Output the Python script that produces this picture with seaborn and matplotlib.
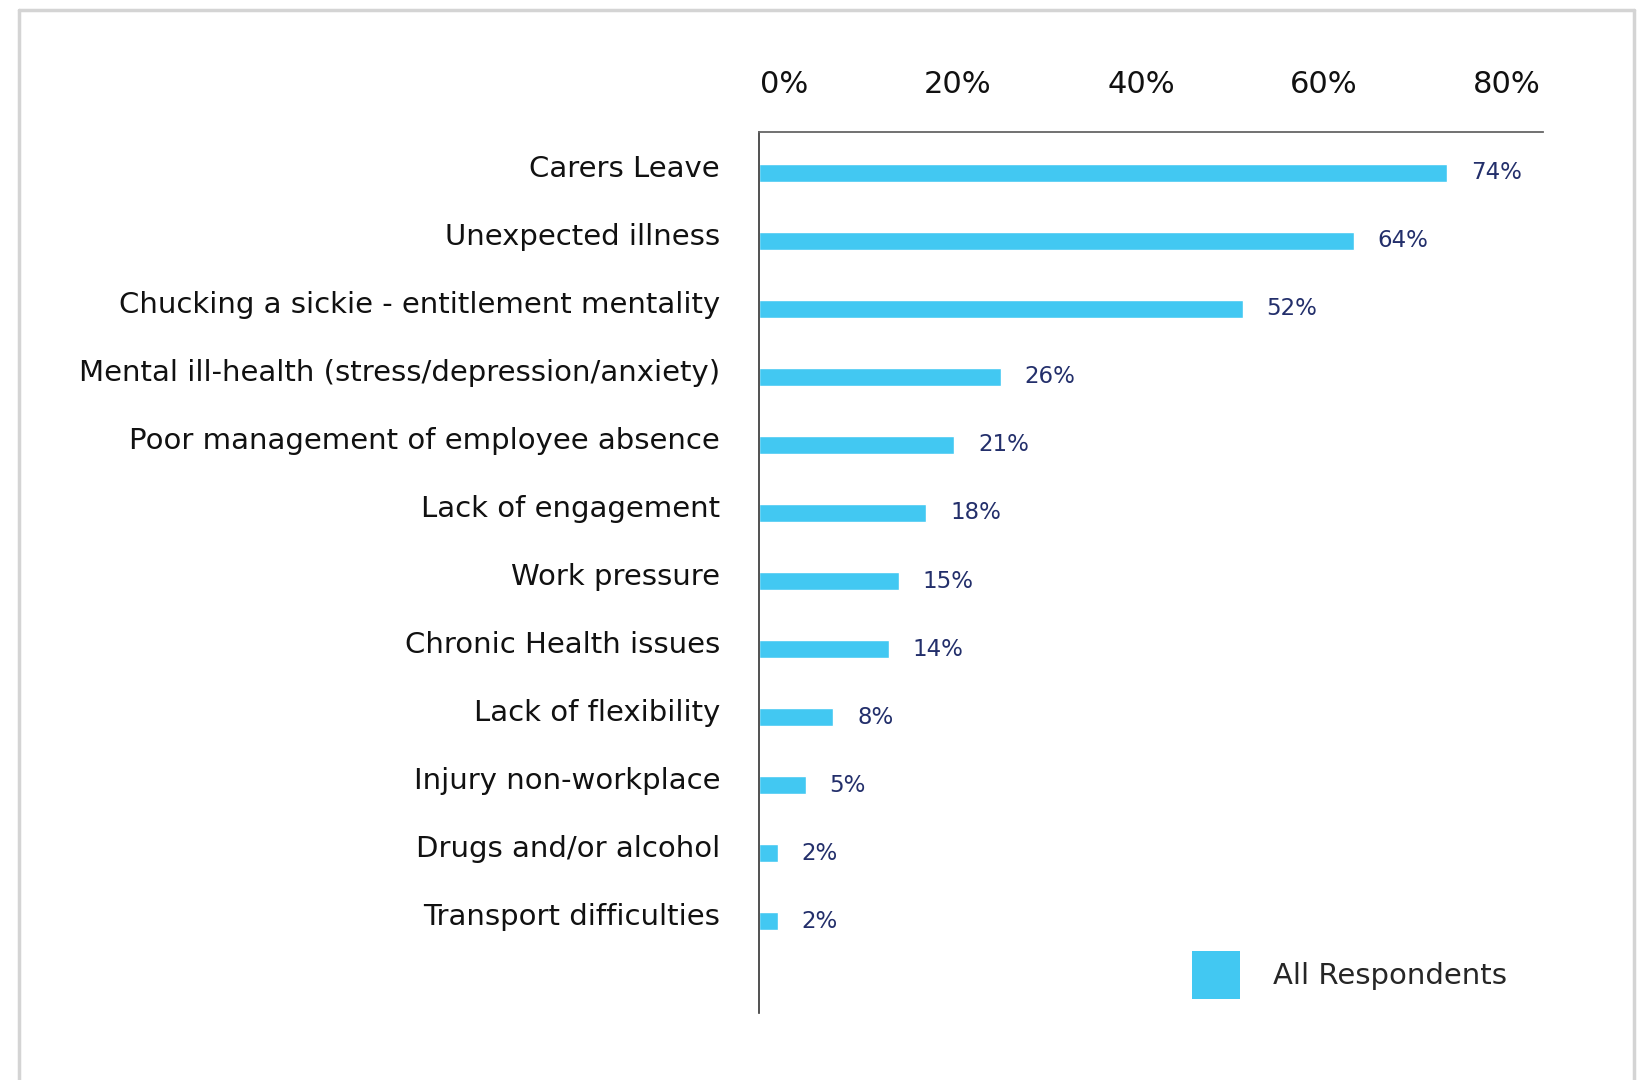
import matplotlib
matplotlib.use("Agg")
import matplotlib.pyplot as plt
import matplotlib.transforms as mtransforms
import seaborn as sns
import pandas as pd
from matplotlib.patches import Patch
from matplotlib.lines import Line2D

categories = [
    "Carers Leave",
    "Unexpected illness",
    "Chucking a sickie - entitlement mentality",
    "Mental ill-health (stress/depression/anxiety)",
    "Poor management of employee absence",
    "Lack of engagement",
    "Work pressure",
    "Chronic Health issues",
    "Lack of flexibility",
    "Injury non-workplace",
    "Drugs and/or alcohol",
    "Transport difficulties",
]
values = [74, 64, 52, 26, 21, 18, 15, 14, 8, 5, 2, 2]
tick_values = [0, 20, 40, 60, 80]
tick_labels = ["0%", "20%", "40%", "60%", "80%"]
series_name = "All Respondents"

BAR = "#42C8F2"
NAVY = "#232F6B"

sns.set_style("white")
plt.rcParams["font.family"] = ["DejaVu Sans"]

df = pd.DataFrame({"cat": categories, "val": values})

fig = plt.figure(figsize=(16.4, 10.8), dpi=100)
ax = fig.add_axes([759 / 1640, 1 - 1013 / 1080, (1543 - 759) / 1640, (1013 - 132) / 1080])

sns.barplot(data=df, y="cat", x="val", orient="h", color=BAR, width=0.26,
            saturation=1, ax=ax)

ax.set_xlim(0, 84.3)
ax.set_ylim(len(categories) - 1 + 1.35, -0.6)
ax.set_xlabel("")
ax.set_ylabel("")

ax.xaxis.tick_top()
ax.set_xticks(tick_values)
ax.set_xticklabels(tick_labels, fontsize=22, color="#111111")
ax.tick_params(axis="x", length=0, pad=24)
ax.tick_params(axis="y", length=0, pad=28, labelsize=21, labelcolor="#111111")

# small horizontal nudges of top tick labels (they are spread to span the axis)
label_dx = [25, 13, 10, 7, 4]
for lab, dx in zip(ax.get_xticklabels(), label_dx):
    lab.set_transform(lab.get_transform() +
                      mtransforms.ScaledTranslation(dx / 100, 0, fig.dpi_scale_trans))
for lab in ax.get_yticklabels():
    lab.set_va("center")
    lab.set_transform(lab.get_transform() +
                      mtransforms.ScaledTranslation(0, 4 / 100, fig.dpi_scale_trans))

for s in ["right", "bottom"]:
    ax.spines[s].set_visible(False)
ax.spines["top"].set_color("#666666")
ax.spines["top"].set_linewidth(1.3)
ax.spines["left"].set_color("#333333")
ax.spines["left"].set_linewidth(1.2)

for i, v in enumerate(values):
    ax.annotate(f"{v}%", xy=(v, i), xytext=(17, 0), textcoords="offset points",
                va="center", ha="left", fontsize=16.5, color=NAVY)

# legend
handles = [Patch(facecolor=BAR, edgecolor="none", label=series_name)]
fig.legend(handles=handles, loc="center left",
           bbox_to_anchor=(1192 / 1640, 1 - 975 / 1080), frameon=False,
           fontsize=21, handlelength=1.64, handleheight=2.15, handletextpad=1.13,
           borderpad=0, borderaxespad=0)

# outer frame
frame_color = "#D4D4D4"
fig.add_artist(Line2D([19 / 1640, 1634 / 1640], [1 - 10 / 1080, 1 - 10 / 1080],
                      color=frame_color, lw=2.5, transform=fig.transFigure))
fig.add_artist(Line2D([19 / 1640, 19 / 1640], [0, 1 - 10 / 1080],
                      color=frame_color, lw=2.5, transform=fig.transFigure))
fig.add_artist(Line2D([1634 / 1640, 1634 / 1640], [0, 1 - 10 / 1080],
                      color=frame_color, lw=2.5, transform=fig.transFigure))

fig.savefig("out.png", dpi=100)
